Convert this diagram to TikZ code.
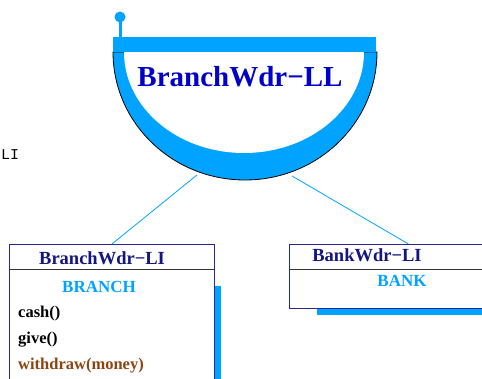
\documentclass[tikz,border=0pt]{standalone}
\usepackage{fontspec}
\setmainfont{Liberation Serif}
\setmonofont{Liberation Mono}
\definecolor{ringblue}{RGB}{0,163,255}
\definecolor{lltitle}{RGB}{0,0,200}
\definecolor{navy}{RGB}{20,20,130}
\definecolor{boxline}{RGB}{40,40,150}
\definecolor{brownop}{RGB}{139,69,19}
\tikzset{
  box/.style={draw=boxline, line width=0.9pt, anchor=north west, inner sep=0pt},
  conn/.style={draw=ringblue, line width=0.8pt},
  shadowbar/.style={fill=ringblue, draw=none},
  divider/.style={draw=black!80, line width=0.8pt},
  boxtitle/.style={font=\fontsize{18.5}{20}\selectfont\bfseries, text=navy, inner sep=0pt},
  stereo/.style={font=\fontsize{17}{19}\selectfont\bfseries, text=ringblue, inner sep=0pt},
  op/.style={font=\fontsize{16.5}{18}\selectfont\bfseries, anchor=west, inner sep=0pt}
}
\begin{document}
\begin{tikzpicture}[x=1pt,y=1pt]
\useasboundingbox (0,0) rectangle (482,379);
\clip (0,0) rectangle (482,379);
% left clipped text
\node[font=\fontsize{15}{16}\ttfamily, anchor=west, inner sep=0pt] (lt) at (1,224) {LI};
% bowl
\fill[ringblue, draw=black, line width=0.8pt] (113,327) arc[start angle=180, end angle=360, x radius=132, y radius=128] -- cycle;
\fill[white] (124,327) arc[start angle=180, end angle=360, x radius=120, y radius=101] -- cycle;
\fill[ringblue] (113,327) rectangle (376,342);
\draw[ringblue, line width=3pt] (120,342) -- (120,362);
\fill[ringblue] (120,362) circle (5.5);
\node[font=\fontsize{29}{31}\selectfont\bfseries, text=lltitle, inner sep=0pt] (ll) at (240,302) {BranchWdr−LL};
\coordinate (bl) at (197,204);
\coordinate (br) at (292,203);
% left box
\fill[shadowbar] (214,0) rectangle (220.5,93);
\node[box, minimum width=205pt, minimum height=146pt] (lb) at (9,135) {};
\draw[divider] (9.5,110) -- (213.5,110);
\node[boxtitle] (lbt) at (102,121) {BranchWdr−LI};
\node[stereo] (lbs) at (99,92) {BRANCH};
\node[op] (o1) at (18,65) {cash()};
\node[op] (o2) at (18,39) {give()};
\node[op, text=brownop] (o3) at (18,13) {withdraw(money)};
% right box
\fill[shadowbar] (317,64) rectangle (500,69.5);
\node[box, minimum width=211pt, minimum height=64pt] (rb) at (289,135) {};
\draw[divider] (289.5,110) -- (500,110);
\node[boxtitle] (rbt) at (367,124) {BankWdr−LI};
\node[stereo] (rbs) at (402,98) {BANK};
% connectors
\draw[conn] (bl) -- (lb.north);
\draw[conn] (br) -- ([xshift=13.5pt]rb.north);
\end{tikzpicture}
\end{document}
